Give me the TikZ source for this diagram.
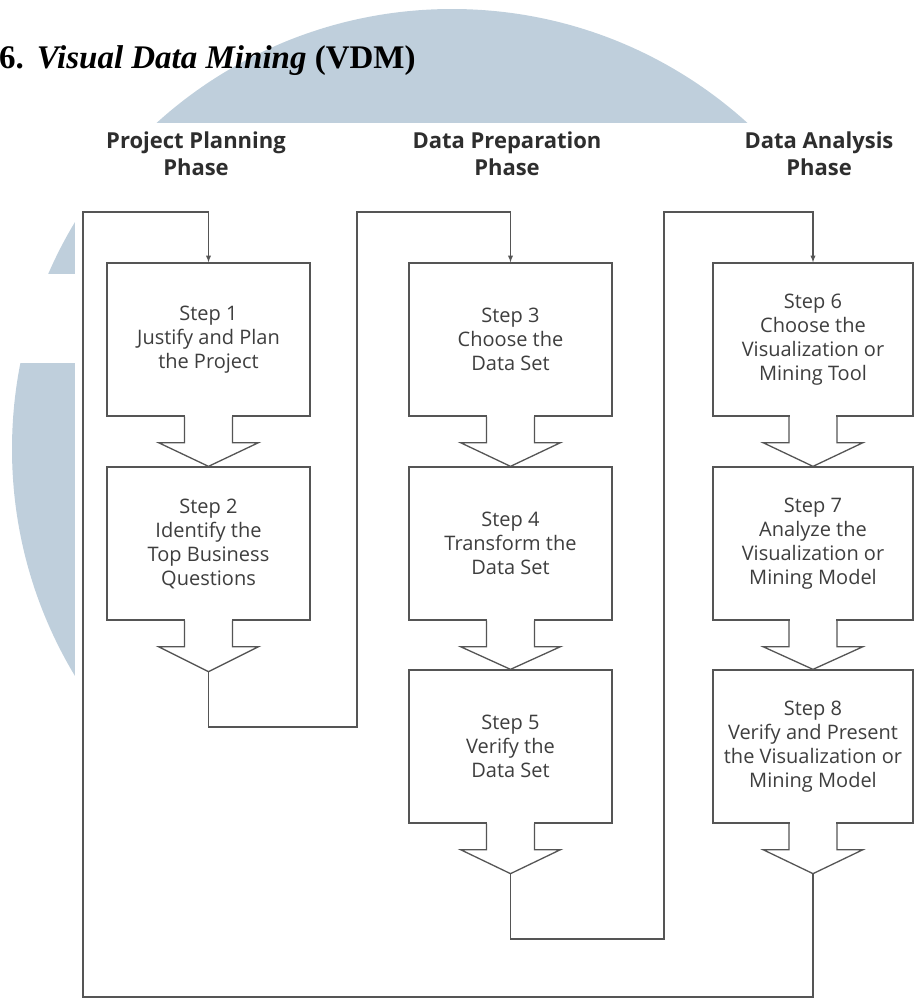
\documentclass[tikz,border=0pt]{standalone}
\usepackage{fontspec}
\setmainfont{Liberation Serif}
\newfontfamily\stepfont{Open Sans}
\usepackage{tikz}
\usetikzlibrary{arrows,calc}

\definecolor{vdmblue}{RGB}{191,207,220}
\definecolor{linegray}{RGB}{85,85,85}
\definecolor{textgray}{RGB}{62,62,62}

\tikzset{
  stepbox/.style={draw=linegray, line width=1.3pt, fill=white, minimum width=203pt,
    minimum height=153pt, align=center, inner sep=0pt, text=textgray,
    font=\stepfont\fontsize{20}{24}\selectfont},
  phase/.style={anchor=north, align=center, inner sep=0pt, text=black!82,
    font=\stepfont\bfseries\fontsize{22}{27}\selectfont},
  flowline/.style={draw=linegray, line width=1.3pt, line join=miter},
}

% open block arrow below a box, #2 = its tip
\newcommand{\stepdown}[2]{%
  \fill[white] ($(#1.south)+(-23.3,-1.5)$) rectangle ($(#1.south)+(23.3,1.5)$);
  \draw[flowline] ($(#1.south)+(-24,0)$) -- ++(0,26) -- ++(-26,0) -- (#2)
    -- ($(#1.south)+(50,26)$) -- ++(-26,0) -- ++(0,-26);
}

\begin{document}
\begin{tikzpicture}[x=1pt,y=-1pt]
        \useasboundingbox (0,0) rectangle (914,999);

        % background disc
        \fill[vdmblue] (452,449) circle [radius=440pt];
        \fill[white] (75,123) rectangle (914,999);
        \fill[white] (0,274) rectangle (75,363);

        \node[anchor=base west, inner sep=0pt, font=\bfseries\fontsize{33}{36}\selectfont] (title)
            at (-1,68) {6.\hspace{13pt}\textit{Visual Data Mining} (VDM)};

        \node[phase] (plan) at (196,132) {Project Planning\\Phase};
        \node[phase] (prep) at (507,132) {Data Preparation\\Phase};
        \node[phase] (anal) at (819,132) {Data Analysis\\Phase};

        % project planning
        \node[stepbox] (step1) at (208.5,339.5) {Step 1\\Justify and Plan\\the Project};
        \node[stepbox] (step2) at (208.5,543.5) {Step 2\\Identify the\\Top Business\\Questions};

        % data preparation
        \node[stepbox] (step3) at (510.5,339.5) {Step 3\\Choose the\\Data Set};
        \node[stepbox] (step4) at (510.5,543.5) {Step 4\\Transform the\\Data Set};
        \node[stepbox] (step5) at (510.5,746.5) {Step 5\\Verify the\\Data Set};

        % data analysis
        \node[stepbox, minimum width=200pt] (step6) at (813,339.5) {Step 6\\Choose the\\Visualization or\\Mining Tool};
        \node[stepbox, minimum width=200pt] (step7) at (813,543.5) {Step 7\\Analyze the\\Visualization or\\Mining Model};
        \node[stepbox, minimum width=200pt] (step8) at (813,746.5) {Step 8\\Verify and Present\\the Visualization or\\Mining Model};

        \coordinate (t2) at ($(step2.south)+(0,51)$);
        \coordinate (t5) at ($(step5.south)+(0,50)$);
        \coordinate (t8) at ($(step8.south)+(0,50)$);

        \stepdown{step1}{step2.north}
        \stepdown{step2}{t2}
        \stepdown{step3}{step4.north}
        \stepdown{step4}{step5.north}
        \stepdown{step5}{t5}
        \stepdown{step6}{step7.north}
        \stepdown{step7}{step8.north}
        \stepdown{step8}{t8}

        % loops into the next phase
        \draw[flowline,-latex] (t8) |- (83,997) -- (83,212) -| (step1.north);
        \draw[flowline,-latex] (t2) |- (357,727) -- (357,212) -| (step3.north);
        \draw[flowline,-latex] (t5) |- (664,939) -- (664,212) -| (step6.north);

\end{tikzpicture}
\end{document}
